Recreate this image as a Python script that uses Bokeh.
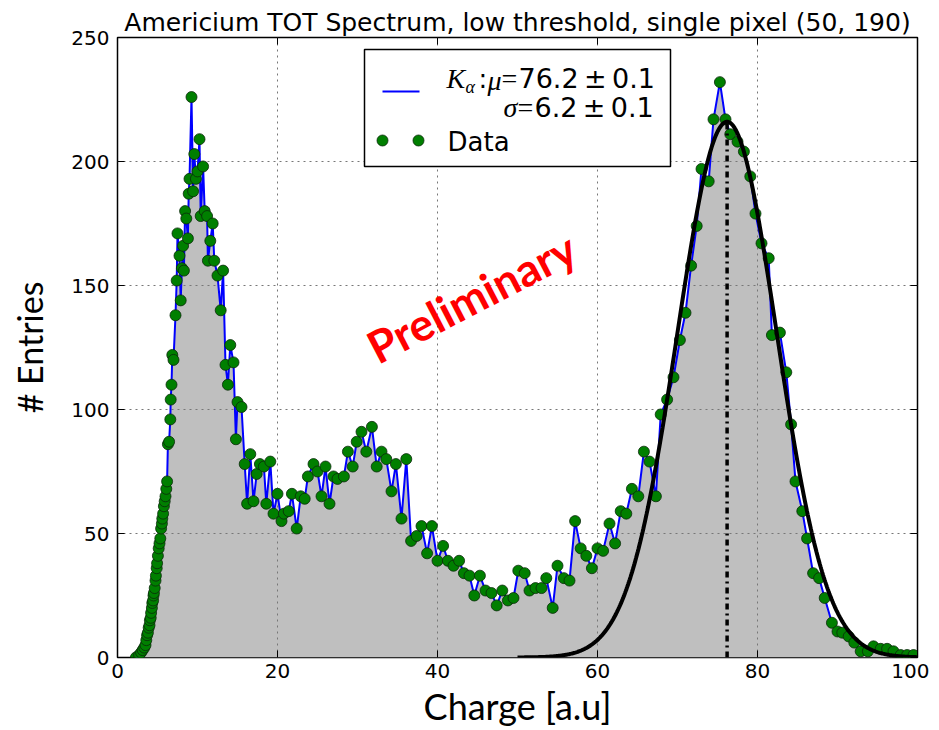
import numpy as np
from bokeh.plotting import figure
from bokeh.models import Label, LinearAxis, Range1d, FixedTicker, BoxAnnotation
from bokeh.embed import file_html
from bokeh.resources import INLINE

# ---------------- data ----------------
charge = [2.3, 2.7, 2.95, 3.15, 3.35, 3.5, 3.6, 3.7, 3.8, 3.9, 4.0, 4.05, 4.15, 4.2,
          4.3, 4.35, 4.45, 4.5, 4.55, 4.65, 4.75, 4.8, 4.9, 4.95, 5.05, 5.15, 5.25,
          5.35, 5.45, 5.55, 5.6, 5.7, 5.8, 5.9, 6.0, 6.1, 6.2,
          6.3, 6.45, 6.6, 6.65, 6.75, 6.85, 7.0, 7.25, 7.4, 7.5, 7.75, 7.9, 8.05,
          8.2, 8.3, 8.45, 8.6, 8.8, 8.9, 9.0, 9.25, 9.45, 9.6, 9.8, 10.0, 10.25,
          10.4, 10.7, 10.9, 11.2, 11.3, 11.6, 11.9, 12.1, 12.5, 12.9, 13.2, 13.5,
          13.8, 14.1, 14.5, 14.8, 15.0, 15.5, 15.9, 16.2, 16.6, 17.0, 17.4, 17.8,
          18.3, 18.6, 19.1, 19.5, 20.0, 20.5, 20.8, 21.4, 21.8, 22.4, 22.9, 23.4,
          23.8, 24.5, 25.0, 25.5, 26.0, 26.5, 27.0, 27.5, 28.3, 28.8, 29.4, 29.9,
          30.5, 31.1, 31.8, 32.4, 33.0, 33.6, 34.25, 34.8, 35.5, 36.1, 36.7, 37.4,
          38.0, 38.7, 39.3, 40.0, 40.7, 41.3, 42.0, 42.7, 43.3, 44.0, 44.6, 45.3,
          46.0, 46.75, 47.4, 48.1, 48.8, 49.5, 50.1, 50.9, 51.5, 52.25, 53.0, 53.6,
          54.4, 55.0, 55.8, 56.5, 57.2, 57.9, 58.6, 59.3, 60.0, 60.7, 61.5, 62.2,
          62.9, 63.6, 64.3, 65.1, 65.8, 66.5, 67.3, 67.9, 68.7, 69.5, 70.3, 71.0,
          71.7, 72.4, 73.0, 73.9, 74.5, 75.3, 76.0, 76.6, 77.5, 78.3, 79.1, 79.75,
          80.5, 81.4, 81.8, 82.8, 83.6, 84.2, 84.75, 85.6, 86.2, 86.95, 87.7, 88.4,
          89.3, 90.0, 90.6, 91.4, 92.1, 92.9, 93.8, 94.5, 95.4, 96.2, 97.0, 97.9,
          98.7, 99.5]
entries = [0, 1, 2, 3, 4, 5, 7, 9, 10, 12, 13, 15, 16, 18,
           20, 22, 23, 25, 26, 28, 31, 33, 36, 38, 41, 44, 46,
           48, 52, 54, 56, 58, 61, 63, 65, 68, 71,
           86, 87, 96, 104, 110, 122, 120, 138, 152, 171, 162, 144, 157,
           166, 156, 180, 177, 169, 187, 193, 226, 188, 203, 193, 196, 209,
           178, 198, 180, 178, 160, 168, 175, 160, 154, 140, 156, 118,
           110, 126, 119, 88, 103, 101, 78, 62, 82, 63, 74, 78,
           77, 62, 79, 58, 66, 55, 58, 59, 66, 52, 65, 64,
           73, 78, 75, 65, 77, 62, 73, 72, 73, 83, 77, 87,
           91, 83, 93, 77, 83, 80, 67, 78, 56, 80, 47, 49,
           53, 42, 53, 39, 45, 39, 37, 39, 34, 33, 25, 33,
           27, 26, 21, 27, 23, 24, 35, 34, 27, 28, 28, 32,
           20, 37, 32, 31, 55, 44, 41, 36, 44, 43, 54, 46,
           59, 58, 68, 65, 83, 79, 65, 98, 104, 113, 128, 139,
           158, 174, 197, 192, 217, 232, 217, 211, 208, 204, 194, 179,
           167, 161, 130, 131, 115, 94, 71, 59, 48, 34, 32, 24,
           14, 10.5, 10, 8.5, 6, 2.5, 2.5, 4.5, 3.5, 3.5, 2.5, 1,
           1, 1]

# Gaussian fit parameters (legend values; amplitude)
FIT_MU = 76.2
FIT_SIGMA = 6.2
FIT_AMP = 216.0
FIT_X_MIN, FIT_X_MAX = 50.0, 100.0

X_TICKS = [0, 20, 40, 60, 80, 100]
Y_TICKS = [0, 50, 100, 150, 200, 250]

TITLE = "Americium TOT Spectrum, low threshold, single pixel (50, 190)"
XLABEL = "Charge [a.u]"
YLABEL = "# Entries"
LEG_MU = "76.2\u2009\u00b1\u20090.1"
LEG_SIGMA = "6.2\u2009\u00b1\u20090.1"
LEG_DATA = "Data"
WATERMARK = "Preliminary"

# ---------------- layout ----------------
FRAME_W, FRAME_H = 800, 620
X0, X1, Y0, Y1 = 0, 100, 0, 250
IMG_LEFT, IMG_BOTTOM = 117, 657  # frame position in the reference image


def sx(px):
    return X0 + (px - IMG_LEFT) / FRAME_W * (X1 - X0)


def sy(py):
    return Y0 + (IMG_BOTTOM - py) / FRAME_H * (Y1 - Y0)


p = figure(frame_width=FRAME_W, frame_height=FRAME_H,
           x_range=Range1d(X0, X1), y_range=Range1d(Y0, Y1),
           output_backend="svg", toolbar_location=None,
           min_border_left=117, min_border_right=12,
           min_border_top=37, min_border_bottom=70,
           background_fill_color="white", border_fill_color="white")

p.outline_line_color = "black"
p.outline_line_width = 1.5

p.title.text = TITLE
p.title.align = "center"
p.title.text_font = "DejaVu Sans"
p.title.text_font_style = "normal"
p.title.text_font_size = "25px"
p.title.text_color = "black"
p.title.standoff = 2

for ax in (p.xaxis[0], p.yaxis[0]):
    ax.major_label_text_font = "DejaVu Sans"
    ax.major_label_text_font_size = "20px"
    ax.major_label_text_color = "black"
    ax.major_tick_in = 7
    ax.major_tick_out = 0
    ax.minor_tick_line_color = None
    ax.axis_line_color = None
    ax.major_tick_line_color = "black"
    ax.axis_label_text_font = "Lato"
    ax.axis_label_text_font_style = "normal"
    ax.axis_label_text_color = "black"

p.xaxis[0].ticker = FixedTicker(ticks=X_TICKS)
p.yaxis[0].ticker = FixedTicker(ticks=Y_TICKS)
p.xaxis[0].axis_label = XLABEL
p.yaxis[0].axis_label = YLABEL
p.xaxis[0].axis_label_text_font_size = "36px"
p.yaxis[0].axis_label_text_font_size = "34px"
p.xaxis[0].major_label_standoff = 6
p.yaxis[0].major_label_standoff = 8
p.xaxis[0].axis_label_standoff = 3
p.yaxis[0].axis_label_standoff = 18

# tick marks on the top and right sides (labels not drawn)
top = LinearAxis(ticker=FixedTicker(ticks=X_TICKS), major_label_text_font_size="1px",
                 major_label_text_color=None, major_label_standoff=0,
                 axis_line_color=None, major_tick_in=7, major_tick_out=0,
                 minor_tick_line_color=None)
right = LinearAxis(ticker=FixedTicker(ticks=Y_TICKS), major_label_text_font_size="1px",
                   major_label_text_color=None, major_label_standoff=0,
                   axis_line_color=None, major_tick_in=7, major_tick_out=0,
                   minor_tick_line_color=None)
p.add_layout(top, "above")
p.add_layout(right, "right")

p.xgrid.ticker = FixedTicker(ticks=X_TICKS)
p.ygrid.ticker = FixedTicker(ticks=Y_TICKS)
for g in (p.xgrid[0], p.ygrid[0]):
    g.grid_line_color = "#777777"
    g.grid_line_dash = "2 4"
    g.grid_line_width = 1

# ---------------- data glyphs ----------------
p.varea(x=charge, y1=[0] * len(charge), y2=entries, fill_color="#bfbfbf",
        level="image")
p.line(charge, entries, line_color="#0000ff", line_width=2)
p.scatter(charge, entries, size=11, fill_color="#007f00", line_color="#0a2a0a",
          line_width=0.8)

fit_x = np.linspace(FIT_X_MIN, FIT_X_MAX, 500)
fit_y = FIT_AMP * np.exp(-0.5 * ((fit_x - FIT_MU) / FIT_SIGMA) ** 2)
p.line(fit_x, fit_y, line_color="black", line_width=4)
p.segment(x0=[FIT_MU], y0=[0], x1=[FIT_MU], y1=[FIT_AMP], line_color="black",
          line_width=3.5, line_dash="6 4 2 4")

# ---------------- legend (hand built) ----------------
p.add_layout(BoxAnnotation(left=sx(364), right=sx(670), top=sy(49), bottom=sy(166),
                           fill_color="white", fill_alpha=1.0,
                           line_color="black", line_width=1.5, line_alpha=1.0))
p.line([sx(382), sx(419)], [sy(91), sy(91)], line_color="#0000ff", line_width=2,
       level="overlay")
p.scatter([sx(382), sx(418)], [sy(140), sy(140)], size=11, fill_color="#007f00",
          line_color="#0a2a0a", line_width=0.8, level="overlay")


def lab(text, px, py, size, font="DejaVu Sans", style="normal", **kw):
    p.add_layout(Label(x=sx(px), y=sy(py), text=text, text_font=font,
                       text_font_style=style, text_font_size=f"{size}px",
                       text_baseline="middle", text_align="left",
                       text_color="black", **kw))


lab("K", 446, 78, 28, font="Liberation Serif", style="italic")
lab("\u03b1", 465, 86, 18, font="Liberation Serif", style="italic")
lab(":", 478, 78, 26)
lab("\u03bc", 487, 80, 28, font="Liberation Serif", style="italic")
lab("=", 501, 78, 28, font="Liberation Serif")
lab(LEG_MU, 518, 78, 27)
lab("\u03c3", 503, 107, 28, font="Liberation Serif", style="italic")
lab("=", 517, 107, 28, font="Liberation Serif")
lab(LEG_SIGMA, 534, 107, 27)
lab(LEG_DATA, 447, 141, 26)

# ---------------- watermark ----------------
p.add_layout(Label(x=sx(471), y=sy(297), text=WATERMARK, text_font="Lato",
                   text_font_style="bold", text_font_size="45px",
                   text_color="#ff0000", angle=0.48, text_align="center",
                   text_baseline="middle"))

open("out.html", "w").write(file_html(p, INLINE))
